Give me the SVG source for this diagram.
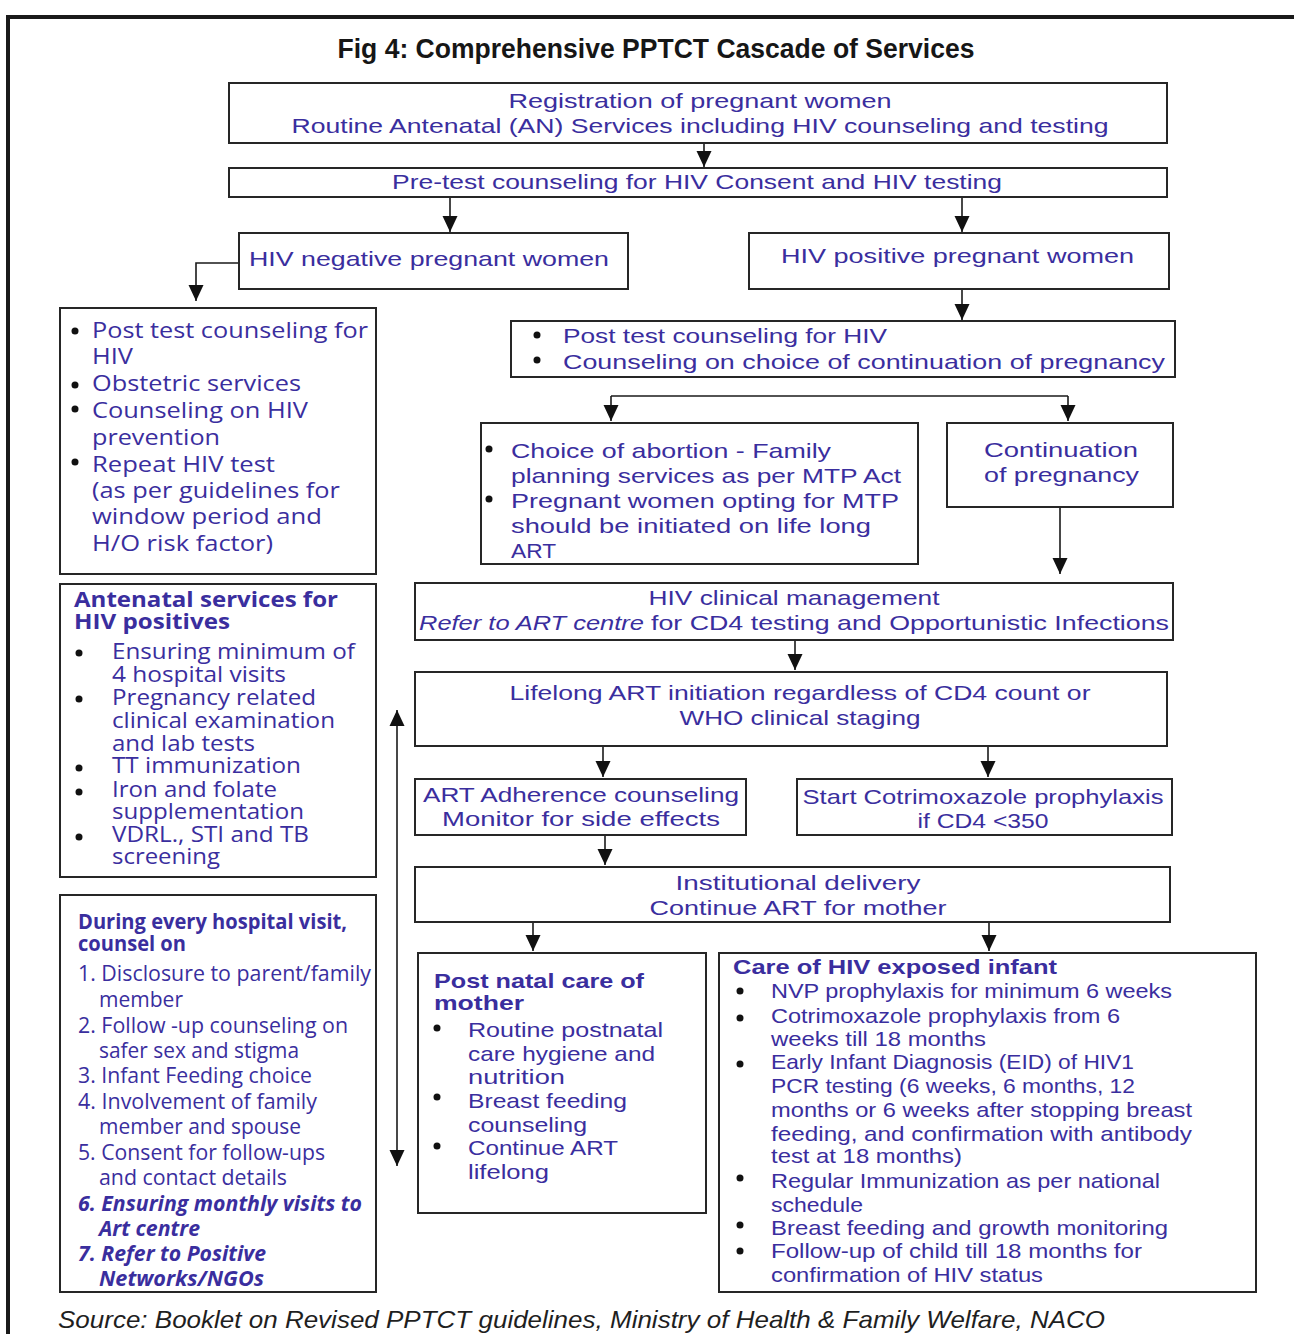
<svg xmlns="http://www.w3.org/2000/svg" width="1294" height="1334" viewBox="0 0 1294 1334">
  <style>
    .box { fill: #ffffff; stroke: #262626; stroke-width: 2; }
    .frame { fill: none; stroke: #1a1a1a; stroke-width: 4; }
    .link { fill: none; stroke: #1a1a1a; stroke-width: 1.6; }
    .t { fill: #3a2e9e; font-family: "Liberation Sans", Arial, sans-serif; font-size: 21px; }
    .w { fill: #3a2e9e; font-family: "Open Sans", "DejaVu Sans", sans-serif; font-size: 21px; }
    .b { font-weight: bold; }
    .i { font-style: italic; }
    .c { text-anchor: middle; }
    .dot { fill: #111111; }
    .title { fill: #161616; font-family: "Liberation Sans", Arial, sans-serif; font-size: 28px; font-weight: bold; }
    .src { fill: #1f1f1f; font-family: "Liberation Sans", Arial, sans-serif; font-size: 24px; font-style: italic; }
  </style>
  <defs>
    <marker id="head" markerUnits="userSpaceOnUse" markerWidth="16" markerHeight="16" refX="16" refY="8" orient="auto-start-reverse">
      <path d="M0,0.5 L16,8 L0,15.5 z" fill="#111111"/>
    </marker>
  </defs>

  <rect width="1294" height="1334" fill="#ffffff"/>

  <!-- outer frame: top and left rules -->
  <path class="frame" d="M8,1334 V17 H1294"/>

  <text class="title c" x="656" y="58" textLength="637" lengthAdjust="spacingAndGlyphs">Fig 4: Comprehensive PPTCT Cascade of Services</text>

  <!-- connectors -->
  <g id="connectors">
    <path class="link" d="M704,143 V167" marker-end="url(#head)"/>
    <path class="link" d="M450,197 V232" marker-end="url(#head)"/>
    <path class="link" d="M962,197 V232" marker-end="url(#head)"/>
    <path class="link" d="M239,263 H196 V301" marker-end="url(#head)"/>
    <path class="link" d="M962,289 V320" marker-end="url(#head)"/>
    <path class="link" d="M611,396 H1068"/>
    <path class="link" d="M611,396 V421" marker-end="url(#head)"/>
    <path class="link" d="M1068,396 V421" marker-end="url(#head)"/>
    <path class="link" d="M1060,507 V574" marker-end="url(#head)"/>
    <path class="link" d="M795,640 V670" marker-end="url(#head)"/>
    <path class="link" d="M603,746 V777" marker-end="url(#head)"/>
    <path class="link" d="M988,746 V777" marker-end="url(#head)"/>
    <path class="link" d="M605,835 V865" marker-end="url(#head)"/>
    <path class="link" d="M533,922 V951" marker-end="url(#head)"/>
    <path class="link" d="M989,922 V951" marker-end="url(#head)"/>
    <path class="link" d="M397,1166 V710" marker-start="url(#head)" marker-end="url(#head)"/>
  </g>

  <!-- registration -->
  <g id="registration">
    <rect class="box" x="229" y="83" width="938" height="60"/>
    <text class="t c" x="700" y="108" textLength="383" lengthAdjust="spacingAndGlyphs">Registration of pregnant women</text>
    <text class="t c" x="700" y="133" textLength="817" lengthAdjust="spacingAndGlyphs">Routine Antenatal (AN) Services including HIV counseling and testing</text>
  </g>

  <!-- pre-test counseling -->
  <g id="pretest">
    <rect class="box" x="229" y="168" width="938" height="29"/>
    <text class="t c" x="697" y="189" textLength="610" lengthAdjust="spacingAndGlyphs">Pre-test counseling for HIV Consent and HIV testing</text>
  </g>

  <!-- HIV negative -->
  <g id="hiv-negative">
    <rect class="box" x="239" y="233" width="389" height="56"/>
    <text class="t" x="249" y="266" textLength="360" lengthAdjust="spacingAndGlyphs">HIV negative pregnant women</text>
  </g>

  <!-- HIV positive -->
  <g id="hiv-positive">
    <rect class="box" x="749" y="233" width="420" height="56"/>
    <text class="t" x="781" y="263" textLength="353" lengthAdjust="spacingAndGlyphs">HIV positive pregnant women</text>
  </g>

  <!-- services for HIV negative women -->
  <g id="negative-services">
    <rect class="box" x="60" y="308" width="316" height="266"/>
    <circle class="dot" cx="75" cy="331" r="3.5"/>
    <circle class="dot" cx="75" cy="385" r="3.5"/>
    <circle class="dot" cx="75" cy="409" r="3.5"/>
    <circle class="dot" cx="75" cy="462" r="3.5"/>
    <text class="w" x="92" y="338" font-size="22" textLength="276" lengthAdjust="spacingAndGlyphs">Post test counseling for</text>
    <text class="w" x="92" y="364" font-size="22" textLength="41" lengthAdjust="spacingAndGlyphs">HIV</text>
    <text class="w" x="92" y="391" font-size="22" textLength="209" lengthAdjust="spacingAndGlyphs">Obstetric services</text>
    <text class="w" x="92" y="418" font-size="22" textLength="216" lengthAdjust="spacingAndGlyphs">Counseling on HIV</text>
    <text class="w" x="92" y="445" font-size="22" textLength="128" lengthAdjust="spacingAndGlyphs">prevention</text>
    <text class="w" x="92" y="472" font-size="22" textLength="183" lengthAdjust="spacingAndGlyphs">Repeat HIV test</text>
    <text class="w" x="92" y="498" font-size="22" textLength="248" lengthAdjust="spacingAndGlyphs">(as per guidelines for</text>
    <text class="w" x="92" y="524" font-size="22" textLength="230" lengthAdjust="spacingAndGlyphs">window period and</text>
    <text class="w" x="92" y="551" font-size="22" textLength="181" lengthAdjust="spacingAndGlyphs">H/O risk factor)</text>
  </g>

  <!-- post test counseling for positive women -->
  <g id="positive-counseling">
    <rect class="box" x="511" y="321" width="664" height="56"/>
    <circle class="dot" cx="537" cy="335" r="3.5"/>
    <circle class="dot" cx="537" cy="360" r="3.5"/>
    <text class="t" x="563" y="343" font-size="22" textLength="324" lengthAdjust="spacingAndGlyphs">Post test counseling for HIV</text>
    <text class="t" x="563" y="369" font-size="22" textLength="602" lengthAdjust="spacingAndGlyphs">Counseling on choice of continuation of pregnancy</text>
  </g>

  <!-- abortion choice -->
  <g id="abortion">
    <rect class="box" x="481" y="423" width="437" height="141"/>
    <circle class="dot" cx="489" cy="449" r="3.5"/>
    <circle class="dot" cx="489" cy="499" r="3.5"/>
    <text class="t" x="511" y="458" font-size="22" textLength="320" lengthAdjust="spacingAndGlyphs">Choice of abortion - Family</text>
    <text class="t" x="511" y="483" font-size="22" textLength="390" lengthAdjust="spacingAndGlyphs">planning services as per MTP Act</text>
    <text class="t" x="511" y="508" font-size="22" textLength="388" lengthAdjust="spacingAndGlyphs">Pregnant women opting for MTP</text>
    <text class="t" x="511" y="533" font-size="22" textLength="360" lengthAdjust="spacingAndGlyphs">should be initiated on life long</text>
    <text class="t" x="511" y="558" font-size="22" textLength="45" lengthAdjust="spacingAndGlyphs">ART</text>
  </g>

  <!-- continuation of pregnancy -->
  <g id="continuation">
    <rect class="box" x="947" y="423" width="226" height="84"/>
    <text class="t" x="984" y="457" font-size="22" textLength="154" lengthAdjust="spacingAndGlyphs">Continuation</text>
    <text class="t" x="984" y="482" font-size="22" textLength="155" lengthAdjust="spacingAndGlyphs">of pregnancy</text>
  </g>

  <!-- HIV clinical management -->
  <g id="clinical-management">
    <rect class="box" x="415" y="583" width="758" height="57"/>
    <text class="t c" x="794" y="605" textLength="291" lengthAdjust="spacingAndGlyphs">HIV clinical management</text>
    <text class="t i" x="419" y="630" textLength="225" lengthAdjust="spacingAndGlyphs">Refer to ART centre</text>
    <text class="t" x="651" y="630" textLength="518" lengthAdjust="spacingAndGlyphs">for CD4 testing and Opportunistic Infections</text>
  </g>

  <!-- lifelong ART -->
  <g id="lifelong-art">
    <rect class="box" x="415" y="672" width="752" height="74"/>
    <text class="t c" x="800" y="700" textLength="581" lengthAdjust="spacingAndGlyphs">Lifelong ART initiation regardless of CD4 count or</text>
    <text class="t c" x="800" y="725" textLength="241" lengthAdjust="spacingAndGlyphs">WHO clinical staging</text>
  </g>

  <!-- adherence counseling -->
  <g id="adherence">
    <rect class="box" x="415" y="779" width="331" height="56"/>
    <text class="t c" x="581" y="802" textLength="316" lengthAdjust="spacingAndGlyphs">ART Adherence counseling</text>
    <text class="t c" x="581" y="826" textLength="278" lengthAdjust="spacingAndGlyphs">Monitor for side effects</text>
  </g>

  <!-- cotrimoxazole -->
  <g id="cotrimoxazole">
    <rect class="box" x="797" y="779" width="375" height="56"/>
    <text class="t c" x="983" y="804" textLength="361" lengthAdjust="spacingAndGlyphs">Start Cotrimoxazole prophylaxis</text>
    <text class="t c" x="983" y="828" textLength="131" lengthAdjust="spacingAndGlyphs">if CD4 &lt;350</text>
  </g>

  <!-- institutional delivery -->
  <g id="delivery">
    <rect class="box" x="415" y="867" width="755" height="55"/>
    <text class="t c" x="798" y="890" textLength="245" lengthAdjust="spacingAndGlyphs">Institutional delivery</text>
    <text class="t c" x="798" y="915" textLength="297" lengthAdjust="spacingAndGlyphs">Continue ART for mother</text>
  </g>

  <!-- post natal care -->
  <g id="postnatal">
    <rect class="box" x="418" y="953" width="288" height="260"/>
    <text class="t b" x="434" y="988" font-size="22" textLength="210" lengthAdjust="spacingAndGlyphs">Post natal care of</text>
    <text class="t b" x="434" y="1010" font-size="22" textLength="90" lengthAdjust="spacingAndGlyphs">mother</text>
    <circle class="dot" cx="437" cy="1028" r="3.5"/>
    <circle class="dot" cx="437" cy="1097" r="3.5"/>
    <text class="t" x="468" y="1037" textLength="195" lengthAdjust="spacingAndGlyphs">Routine postnatal</text>
    <text class="t" x="468" y="1061" textLength="187" lengthAdjust="spacingAndGlyphs">care hygiene and</text>
    <text class="t" x="468" y="1084" textLength="97" lengthAdjust="spacingAndGlyphs">nutrition</text>
    <text class="t" x="468" y="1108" textLength="159" lengthAdjust="spacingAndGlyphs">Breast feeding</text>
    <text class="t" x="468" y="1132" textLength="119" lengthAdjust="spacingAndGlyphs">counseling</text>
    <circle class="dot" cx="437" cy="1146" r="3.5"/>
    <text class="t" x="468" y="1155" textLength="150" lengthAdjust="spacingAndGlyphs">Continue ART</text>
    <text class="t" x="468" y="1179" textLength="81" lengthAdjust="spacingAndGlyphs">lifelong</text>
  </g>

  <!-- care of HIV exposed infant -->
  <g id="infant-care">
    <rect class="box" x="719" y="953" width="537" height="339"/>
    <text class="t b" x="733" y="974" font-size="20" textLength="324" lengthAdjust="spacingAndGlyphs">Care of HIV exposed infant</text>
    <circle class="dot" cx="740" cy="991" r="3.5"/>
    <circle class="dot" cx="740" cy="1018" r="3.5"/>
    <circle class="dot" cx="740" cy="1064" r="3.5"/>
    <circle class="dot" cx="740" cy="1178" r="3.5"/>
    <circle class="dot" cx="740" cy="1225" r="3.5"/>
    <circle class="dot" cx="740" cy="1251" r="3.5"/>
    <text class="t" x="771" y="998" font-size="19" textLength="401" lengthAdjust="spacingAndGlyphs">NVP prophylaxis for minimum 6 weeks</text>
    <text class="t" x="771" y="1023" font-size="19" textLength="349" lengthAdjust="spacingAndGlyphs">Cotrimoxazole prophylaxis from 6</text>
    <text class="t" x="771" y="1046" font-size="19" textLength="215" lengthAdjust="spacingAndGlyphs">weeks till 18 months</text>
    <text class="t" x="771" y="1069" font-size="19" textLength="363" lengthAdjust="spacingAndGlyphs">Early Infant Diagnosis (EID) of HIV1</text>
    <text class="t" x="771" y="1093" font-size="19" textLength="364" lengthAdjust="spacingAndGlyphs">PCR testing (6 weeks, 6 months, 12</text>
    <text class="t" x="771" y="1117" font-size="19" textLength="421" lengthAdjust="spacingAndGlyphs">months or 6 weeks after stopping breast</text>
    <text class="t" x="771" y="1141" font-size="19" textLength="421" lengthAdjust="spacingAndGlyphs">feeding, and confirmation with antibody</text>
    <text class="t" x="771" y="1163" font-size="19" textLength="191" lengthAdjust="spacingAndGlyphs">test at 18 months)</text>
    <text class="t" x="771" y="1188" font-size="19" textLength="389" lengthAdjust="spacingAndGlyphs">Regular Immunization as per national</text>
    <text class="t" x="771" y="1212" font-size="19" textLength="92" lengthAdjust="spacingAndGlyphs">schedule</text>
    <text class="t" x="771" y="1235" font-size="19" textLength="397" lengthAdjust="spacingAndGlyphs">Breast feeding and growth monitoring</text>
    <text class="t" x="771" y="1258" font-size="19" textLength="371" lengthAdjust="spacingAndGlyphs">Follow-up of child till 18 months for</text>
    <text class="t" x="771" y="1282" font-size="19" textLength="272" lengthAdjust="spacingAndGlyphs">confirmation of HIV status</text>
  </g>

  <!-- antenatal services for HIV positives -->
  <g id="antenatal-positives">
    <rect class="box" x="60" y="584" width="316" height="293"/>
    <text class="w b" x="74" y="607" font-size="20" textLength="264" lengthAdjust="spacingAndGlyphs">Antenatal services for</text>
    <text class="w b" x="74" y="629" font-size="20" textLength="156" lengthAdjust="spacingAndGlyphs">HIV positives</text>
    <circle class="dot" cx="79" cy="653" r="3.5"/>
    <circle class="dot" cx="79" cy="699" r="3.5"/>
    <circle class="dot" cx="79" cy="768" r="3.5"/>
    <circle class="dot" cx="79" cy="792" r="3.5"/>
    <circle class="dot" cx="79" cy="837" r="3.5"/>
    <text class="w" x="112" y="659" textLength="243" lengthAdjust="spacingAndGlyphs">Ensuring minimum of</text>
    <text class="w" x="112" y="682" textLength="174" lengthAdjust="spacingAndGlyphs">4 hospital visits</text>
    <text class="w" x="112" y="705" textLength="204" lengthAdjust="spacingAndGlyphs">Pregnancy related</text>
    <text class="w" x="112" y="728" textLength="223" lengthAdjust="spacingAndGlyphs">clinical examination</text>
    <text class="w" x="112" y="751" textLength="143" lengthAdjust="spacingAndGlyphs">and lab tests</text>
    <text class="w" x="112" y="773" textLength="189" lengthAdjust="spacingAndGlyphs">TT immunization</text>
    <text class="w" x="112" y="797" textLength="165" lengthAdjust="spacingAndGlyphs">Iron and folate</text>
    <text class="w" x="112" y="819" textLength="192" lengthAdjust="spacingAndGlyphs">supplementation</text>
    <text class="w" x="112" y="842" textLength="197" lengthAdjust="spacingAndGlyphs">VDRL., STI and TB</text>
    <text class="w" x="112" y="864" textLength="108" lengthAdjust="spacingAndGlyphs">screening</text>
  </g>

  <!-- counseling at every hospital visit -->
  <g id="visit-counseling">
    <rect class="box" x="60" y="895" width="316" height="397"/>
    <text class="w b" x="78" y="929" font-size="19" textLength="269" lengthAdjust="spacingAndGlyphs">During every hospital visit,</text>
    <text class="w b" x="78" y="951" font-size="19" textLength="108" lengthAdjust="spacingAndGlyphs">counsel on</text>
    <text class="w" x="78" y="981" font-size="20" textLength="293" lengthAdjust="spacingAndGlyphs">1. Disclosure to parent/family</text>
    <text class="w" x="99" y="1007" font-size="20" textLength="84" lengthAdjust="spacingAndGlyphs">member</text>
    <text class="w" x="78" y="1033" font-size="20" textLength="270" lengthAdjust="spacingAndGlyphs">2. Follow -up counseling on</text>
    <text class="w" x="99" y="1058" font-size="20" textLength="200" lengthAdjust="spacingAndGlyphs">safer sex and stigma</text>
    <text class="w" x="78" y="1083" font-size="20" textLength="234" lengthAdjust="spacingAndGlyphs">3. Infant Feeding choice</text>
    <text class="w" x="78" y="1109" font-size="20" textLength="239" lengthAdjust="spacingAndGlyphs">4. Involvement of family</text>
    <text class="w" x="99" y="1134" font-size="20" textLength="202" lengthAdjust="spacingAndGlyphs">member and spouse</text>
    <text class="w" x="78" y="1160" font-size="20" textLength="247" lengthAdjust="spacingAndGlyphs">5. Consent for follow-ups</text>
    <text class="w" x="99" y="1185" font-size="20" textLength="188" lengthAdjust="spacingAndGlyphs">and contact details</text>
    <text class="w b i" x="78" y="1211" font-size="20" textLength="284" lengthAdjust="spacingAndGlyphs">6. Ensuring monthly visits to</text>
    <text class="w b i" x="99" y="1236" font-size="20" textLength="101" lengthAdjust="spacingAndGlyphs">Art centre</text>
    <text class="w b i" x="78" y="1261" font-size="20" textLength="188" lengthAdjust="spacingAndGlyphs">7. Refer to Positive</text>
    <text class="w b i" x="99" y="1286" font-size="20" textLength="165" lengthAdjust="spacingAndGlyphs">Networks/NGOs</text>
  </g>

  <text class="src" x="58" y="1328" textLength="1047" lengthAdjust="spacingAndGlyphs">Source: Booklet on Revised PPTCT guidelines, Ministry of Health &amp; Family Welfare, NACO</text>
</svg>
